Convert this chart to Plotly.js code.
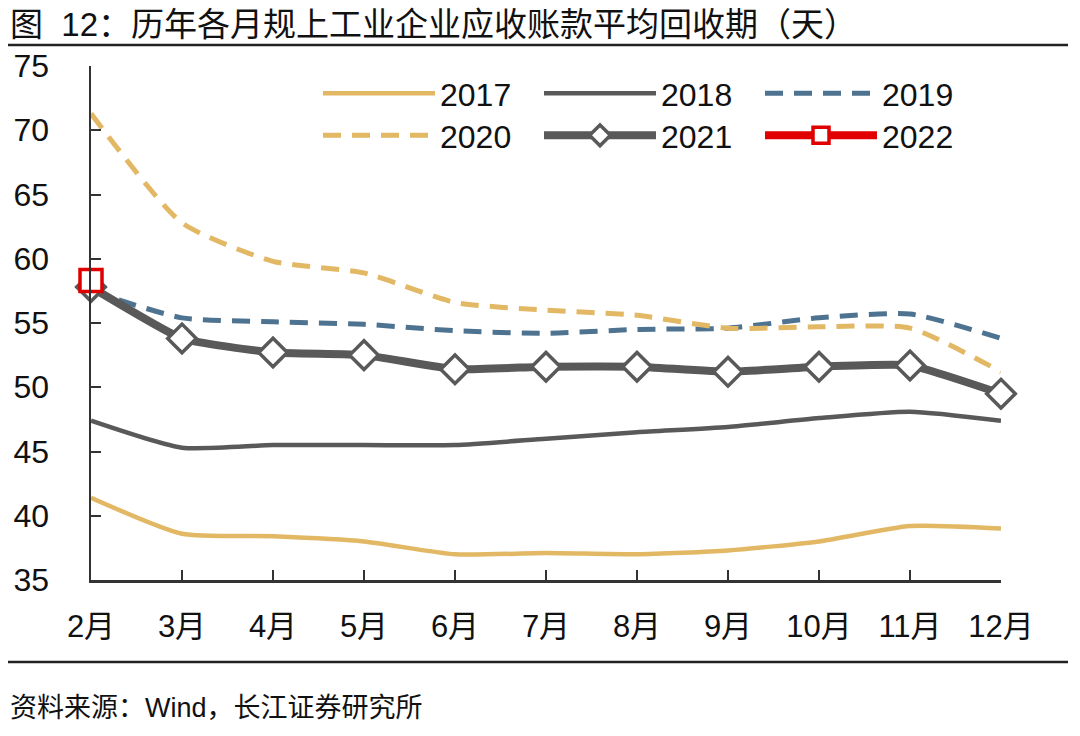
<!DOCTYPE html>
<html>
<head>
<meta charset="utf-8">
<script src="https://cdn.plot.ly/plotly-3.0.1.min.js"></script>
<style>
html,body{margin:0;padding:0;background:#fff;}
#chart{width:1080px;height:736px;}
</style>
</head>
<body>
<div id="chart"></div>
<script>
// ---- data ----
var months = ["2月","3月","4月","5月","6月","7月","8月","9月","10月","11月","12月"];
var y2017 = [41.4, 38.6, 38.4, 38.0, 37.0, 37.1, 37.0, 37.3, 38.0, 39.2, 39.0];
var y2018 = [47.4, 45.3, 45.5, 45.5, 45.5, 46.0, 46.5, 46.9, 47.6, 48.1, 47.4];
var y2019 = [57.5, 55.4, 55.1, 54.9, 54.4, 54.2, 54.5, 54.6, 55.4, 55.7, 53.8];
var y2020 = [71.3, 62.8, 59.8, 58.9, 56.6, 56.0, 55.6, 54.6, 54.7, 54.6, 51.2];
var y2021 = [57.8, 53.8, 52.7, 52.5, 51.4, 51.6, 51.6, 51.2, 51.6, 51.7, 49.5];
var y2022 = [58.3];
var seriesNames = ["2017","2018","2019","2020","2021","2022"];
var yTicks = [35,40,45,50,55,60,65,70,75];

var gold = "#E2B865", gray = "#595959", blue = "#4E7391", red = "#E00000";
var numFont = "Liberation Sans, Arial, sans-serif";
var cjkFont = "Liberation Sans, Noto Sans CJK SC, sans-serif";

var traces = [
  {x: months, y: y2017, name: seriesNames[0], mode: "lines", cliponaxis: false, legend: "legend",
   line: {color: gold, width: 4.5, shape: "spline", smoothing: 0.6}},
  {x: months, y: y2018, name: seriesNames[1], mode: "lines", cliponaxis: false, legend: "legend",
   line: {color: gray, width: 4.5, shape: "spline", smoothing: 0.6}},
  {x: months, y: y2019, name: seriesNames[2], mode: "lines", cliponaxis: false, legend: "legend",
   line: {color: blue, width: 5, dash: "18px,11px", shape: "spline", smoothing: 0.6}},
  {x: months, y: y2020, name: seriesNames[3], mode: "lines", cliponaxis: false, legend: "legend2",
   line: {color: gold, width: 5, dash: "18px,11px", shape: "spline", smoothing: 0.6}},
  {x: months, y: y2021, name: seriesNames[4], mode: "lines+markers", cliponaxis: false, legend: "legend2",
   line: {color: gray, width: 8, shape: "spline", smoothing: 0.4},
   marker: {symbol: "diamond", size: 22, color: "#fff", line: {color: gray, width: 3.5}}},
  {x: months.slice(0, y2022.length), y: y2022, name: seriesNames[5], mode: "lines+markers",
   cliponaxis: false, legend: "legend2",
   line: {color: red, width: 8},
   marker: {symbol: "square", size: 22, color: "#fff", line: {color: red, width: 3.5}}}
];

var L = 91, R = 79, T = 66, B = 156, W = 1080, H = 736;
var pw = W - L - R, ph = H - T - B;
function px2x(px){ return (px - L) / pw; }
function py2y(py){ return (H - B - py) / ph; }

function legendAt(topPx){
  return {orientation: "h", x: px2x(318), xanchor: "left",
          y: py2y(topPx), yanchor: "top",
          entrywidth: 94, entrywidthmode: "pixels",
          itemwidth: 112, tracegroupgap: 0,
          bgcolor: "rgba(0,0,0,0)",
          font: {family: numFont, size: 32, color: "#111"}};
}

var layout = {
  width: W, height: H,
  margin: {l: L, r: R, t: T, b: B, pad: 0},
  paper_bgcolor: "#fff", plot_bgcolor: "#fff",
  showlegend: true,
  title: {text: "图  12：历年各月规上工业企业应收账款平均回收期（天）",
          x: 10 / W, xanchor: "left", xref: "container",
          y: 1 - 24 / H, yanchor: "middle", yref: "container",
          font: {family: cjkFont, size: 33, color: "#111"}},
  xaxis: {type: "category", range: [0, months.length - 1],
          showgrid: false, zeroline: false,
          showline: true, linecolor: "#333", linewidth: 2.5,
          ticks: "inside", ticklen: 10, tickwidth: 2, tickcolor: "#333",
          tickfont: {family: cjkFont, size: 31, color: "#111"},
          ticklabelstandoff: 17, fixedrange: true},
  yaxis: {range: [35, 75], tickvals: yTicks, ticktext: yTicks.map(String),
          showgrid: false, zeroline: false,
          showline: true, linecolor: "#333", linewidth: 2.5,
          ticks: "inside", ticklen: 10, tickwidth: 2, tickcolor: "#333",
          tickfont: {family: numFont, size: 32, color: "#111"},
          ticklabelstandoff: 33, fixedrange: true},
  legend: legendAt(66),
  legend2: legendAt(108),
  shapes: [
    {type: "line", xref: "paper", yref: "paper", x0: px2x(8), x1: px2x(1068),
     y0: py2y(45), y1: py2y(45), line: {color: "#222", width: 2.5}},
    {type: "line", xref: "paper", yref: "paper", x0: px2x(8), x1: px2x(1068),
     y0: py2y(662), y1: py2y(662), line: {color: "#222", width: 2.5}}
  ],
  annotations: [
    {text: "资料来源：Wind，长江证券研究所", xref: "paper", yref: "paper",
     x: px2x(8), xanchor: "left", y: py2y(708), yanchor: "middle",
     showarrow: false, font: {family: cjkFont, size: 27, color: "#111"}}
  ]
};

Plotly.newPlot("chart", traces, layout, {displayModeBar: false, staticPlot: true});
</script>
</body>
</html>
